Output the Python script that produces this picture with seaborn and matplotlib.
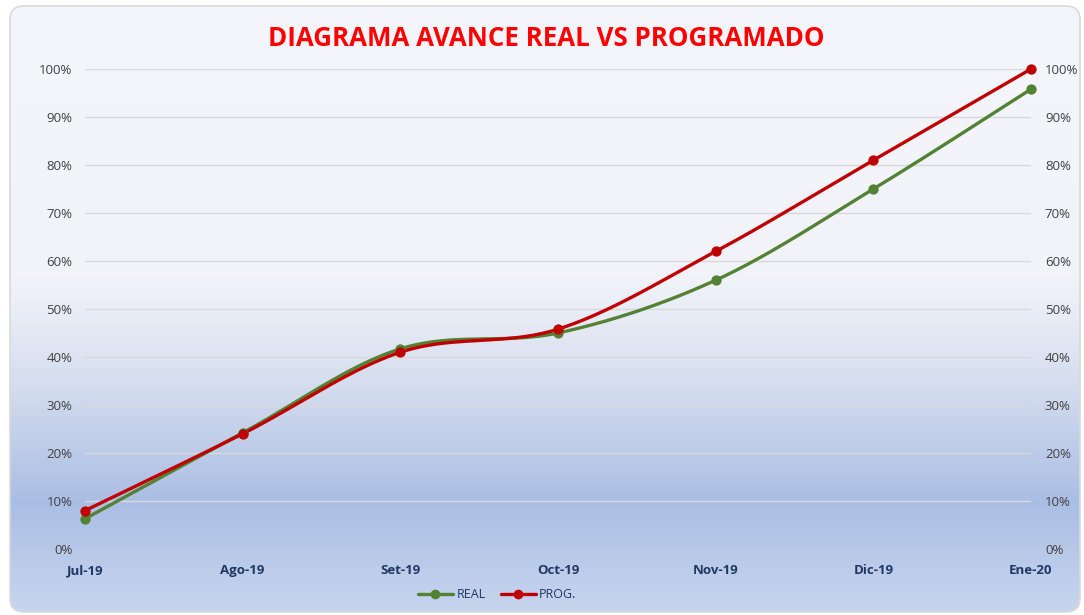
import numpy as np
import pandas as pd
import matplotlib
matplotlib.use("Agg")
import matplotlib.pyplot as plt
import seaborn as sns
from matplotlib.colors import LinearSegmentedColormap
from matplotlib.lines import Line2D
from matplotlib.patches import FancyBboxPatch
from matplotlib.ticker import PercentFormatter

# data
months = ["Jul-19", "Ago-19", "Set-19", "Oct-19", "Nov-19", "Dic-19", "Ene-20"]
real = [0.063, 0.242, 0.417, 0.450, 0.560, 0.750, 0.958]
prog = [0.080, 0.240, 0.410, 0.458, 0.620, 0.810, 1.000]

GREEN = "#548235"
RED = "#c00000"


def smooth(x, y, n=40):
    # Excel-style smoothed line: Bezier segments with catmull-rom control points
    x = np.asarray(x, float)
    y = np.asarray(y, float)
    px = np.concatenate([[x[0]], x, [x[-1]]])
    py = np.concatenate([[y[0]], y, [y[-1]]])
    t = np.linspace(0, 1, n)[:, None]
    out = []
    for i in range(1, len(px) - 2):
        p0 = np.array([px[i], py[i]])
        p3 = np.array([px[i + 1], py[i + 1]])
        p1 = p0 + (np.array([px[i + 1], py[i + 1]]) - np.array([px[i - 1], py[i - 1]])) / 6
        p2 = p3 - (np.array([px[i + 2], py[i + 2]]) - np.array([px[i], py[i]])) / 6
        seg = ((1 - t) ** 3) * p0 + 3 * ((1 - t) ** 2) * t * p1 + 3 * (1 - t) * t ** 2 * p2 + t ** 3 * p3
        out.append(seg)
    pts = np.vstack(out)
    return pts[:, 0], pts[:, 1]


sns.set_theme(style="white")
plt.rcParams["font.family"] = ["Open Sans", "DejaVu Sans"]

W, H = 1084, 615
fig = plt.figure(figsize=(W / 100, H / 100), dpi=100)
fig.patch.set_facecolor("white")

# gradient background inside a rounded frame
bg = fig.add_axes([0, 0, 1, 1], zorder=-5)
bg.set_xlim(0, W)
bg.set_ylim(H, 0)
bg.axis("off")
cmap = LinearSegmentedColormap.from_list(
    "bg",
    [(0.0, "#f5f6fb"), (0.45, "#f1f3f9"), (0.62, "#d6deef"),
     (0.82, "#aabee4"), (1.0, "#c7d5ee")])
grad = np.linspace(0, 1, 300)[:, None]
im = bg.imshow(grad, cmap=cmap, aspect="auto", extent=[10, W - 4, H - 3, 6])
frame = FancyBboxPatch((10, 6), W - 14, H - 9, boxstyle="round,pad=0,rounding_size=14",
                       facecolor="none", edgecolor="#d9d9d9", linewidth=1.2)
bg.add_patch(frame)
im.set_clip_path(frame)

# plot area: x 85..1031, y 69..549 in pixels
ax = fig.add_axes([85 / W, 1 - 549 / H, (1031 - 85) / W, (549 - 69) / H])
ax.patch.set_alpha(0)
xs = np.arange(len(months))

df = pd.DataFrame({"mes": xs, "REAL": real, "PROG.": prog})

for col, color in [("REAL", GREEN), ("PROG.", RED)]:
    sx, sy = smooth(df["mes"], df[col])
    ax.plot(sx, sy, color=color, lw=2.4, solid_capstyle="round", zorder=3)
    sns.scatterplot(data=df, x="mes", y=col, color=color, s=55, edgecolor=color,
                    linewidth=0, ax=ax, zorder=4, clip_on=False, legend=False)

ax.set_xlim(0, len(months) - 1)
ax.set_ylim(0, 1)
ax.set_yticks(np.arange(0, 1.01, 0.1))
ax.yaxis.set_major_formatter(PercentFormatter(1.0, decimals=0))
ax.grid(axis="y", color="#d9d9d9", lw=1)
ax.grid(axis="x", visible=False)
for s in ax.spines.values():
    s.set_visible(False)
ax.set_xlabel("")
ax.set_ylabel("")
ax.set_xticks(xs)
ax.set_xticklabels(months, fontsize=9.5, fontweight="bold", color="#1f3864")
ax.tick_params(axis="x", length=0, pad=11)
ax.tick_params(axis="y", length=0, pad=9, labelsize=9.5, labelcolor="#404040")

ax2 = ax.twinx()
ax2.set_ylim(0, 1)
ax2.set_yticks(np.arange(0, 1.01, 0.1))
ax2.yaxis.set_major_formatter(PercentFormatter(1.0, decimals=0))
ax2.tick_params(axis="y", length=0, pad=10, labelsize=9.5, labelcolor="#404040")
for s in ax2.spines.values():
    s.set_visible(False)

fig.text(546 / W, 1 - 38 / H, "DIAGRAMA AVANCE REAL VS PROGRAMADO", color="#ff0000",
         fontsize=18.6, fontweight="bold", ha="center", va="center")

handles = [Line2D([], [], color=GREEN, lw=2.4, marker="o", markersize=6),
           Line2D([], [], color=RED, lw=2.4, marker="o", markersize=6)]
fig.legend(handles, ["REAL", "PROG."], loc="center", bbox_to_anchor=(497 / W, 1 - 595 / H),
           ncol=2, frameon=False, fontsize=9, handlelength=2.8, columnspacing=1.2,
           handletextpad=0.3, labelcolor="#1f3864")

fig.savefig("out.png", dpi=100)
